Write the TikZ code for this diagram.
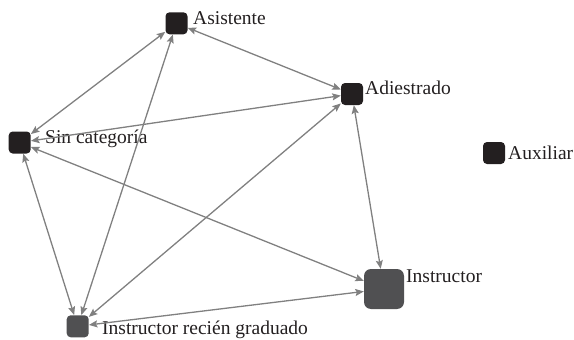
\documentclass[tikz,border=0pt]{standalone}
\usepackage{fontspec}
\setmainfont{Liberation Serif}
\usetikzlibrary{arrows.meta}
\definecolor{nodedark}{HTML}{231F20}
\definecolor{nodegray}{HTML}{505052}
\definecolor{edgegray}{HTML}{808080}
\definecolor{txt}{HTML}{231F20}
\begin{document}
\begin{tikzpicture}[x=1pt,y=-1pt,
  sq/.style={rectangle, rounded corners=4pt, minimum size=22pt, inner sep=0pt, fill=nodedark},
  big/.style={sq, minimum size=40pt, rounded corners=7pt, fill=nodegray},
  mid/.style={sq, fill=nodegray},
  lbl/.style={anchor=base west, inner sep=0pt, font=\fontsize{19.5}{20}\selectfont, text=txt},
  link/.style={draw=edgegray, line width=1.3pt, {Stealth[length=8.5pt,width=7pt,inset=1.5pt]}-{Stealth[length=8.5pt,width=7pt,inset=1.5pt]}}
]
\useasboundingbox (0,0) rectangle (574,340);
\node[sq] (as) at (176.5,23.3) {};
\node[sq] (ad) at (352,94) {};
\node[sq] (sc) at (19.7,142.5) {};
\node[sq] (au) at (494,153) {};
\node[big] (in) at (384,289) {};
\node[mid] (irg) at (77.7,326.3) {};

\node[lbl] (tas) at (193,24) {Asistente};
\node[lbl] (tad) at (365,94) {Adiestrado};
\node[lbl] (tsc) at (45,143) {Sin categoría};
\node[lbl] (tau) at (508,159) {Auxiliar};
\node[lbl] (tin) at (406,282) {Instructor};
\node[lbl] (tirg) at (102,334) {Instructor recién graduado};

\draw[link] (as) -- (sc);
\draw[link] (as) -- (ad);
\draw[link] (as) -- (irg);
\draw[link] (ad) -- (sc);
\draw[link] (ad) -- (in);
\draw[link] (ad) -- (irg);
\draw[link] (sc) -- (in);
\draw[link] (sc) -- (irg);
\draw[link] (irg) -- (in);
\end{tikzpicture}
\end{document}
